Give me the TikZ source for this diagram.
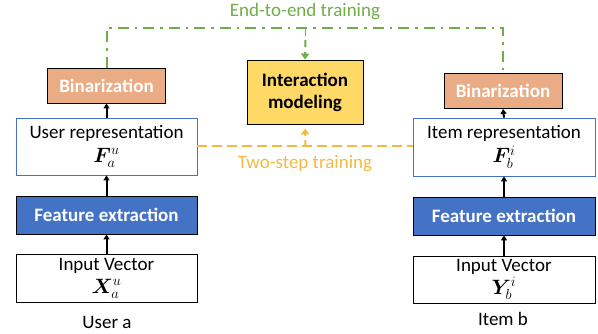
\documentclass[tikz,border=0pt]{standalone}
\usepackage{fontspec}
\setmainfont{Carlito}
\usepackage{amsmath,bm}
\usetikzlibrary{arrows.meta}
\definecolor{binfill}{HTML}{EAAC84}
\definecolor{featblue}{HTML}{4472C4}
\definecolor{intfill}{HTML}{FFD966}
\definecolor{egreen}{HTML}{70AD47}
\definecolor{torange}{HTML}{F4B942}
\newcommand{\bigmath}[1]{{\fontsize{21}{23}\selectfont$#1$}}
\tikzset{
  box/.style={draw=black, line width=0.9pt, inner sep=0pt, align=center, font=\fontsize{19}{23}\selectfont},
  binbox/.style={box, fill=binfill, text=white, font=\fontsize{19}{23}\selectfont\bfseries, minimum width=118pt, minimum height=35pt},
  repbox/.style={box, draw=featblue, line width=0.8pt, minimum width=181pt, minimum height=57pt},
  featbox/.style={box, fill=featblue, text=white, font=\fontsize{19}{23}\selectfont\bfseries, minimum width=181pt, minimum height=38pt},
  inbox/.style={box, minimum width=181pt, minimum height=48pt},
  intbox/.style={box, fill=intfill, font=\fontsize{19}{22}\selectfont\bfseries, minimum width=116pt, minimum height=64pt},
  flow/.style={line width=2pt, -{Triangle[length=5pt,width=6pt]}},
  e2e/.style={egreen, line width=2pt, dash pattern=on 11pt off 6pt on 2.5pt off 6pt},
  twostep/.style={torange, line width=2pt, dash pattern=on 10pt off 5pt},
  lbl/.style={font=\fontsize{19}{23}\selectfont, inner sep=0pt}
}
\begin{document}
\begin{tikzpicture}[x=1pt,y=-1pt]
\useasboundingbox (0,0) rectangle (598,333);
% left column
\node[binbox] (binL) at (106.5,85.5) {Binarization};
\node[repbox] (userRep) at (106.5,146.5) {User representation\\[1pt] \bigmath{\bm{F}_a^u}};
\node[featbox] (featL) at (106.5,215) {Feature extraction};
\node[inbox] (inL) at (106.5,278) {Input Vector\\[0pt] \bigmath{\bm{X}_a^u}};
\node[lbl] (userA) at (107,322) {User a};
% right column
\node[binbox] (binR) at (503,91) {Binarization};
\node[repbox, minimum width=182pt, minimum height=58pt] (itemRep) at (504,147) {Item representation\\[1pt] \bigmath{\bm{F}_b^i}};
\node[featbox, minimum width=182pt] (featR) at (504,216) {Feature extraction};
\node[inbox, minimum width=182pt, minimum height=47pt] (inR) at (504,279.5) {Input Vector\\[0pt] \bigmath{\bm{Y}_b^i}};
\node[lbl] (itemB) at (503,319) {Item b};
% middle
\node[intbox] (inter) at (305,92) {Interaction\\modeling};
% black flows
\draw[flow] (inL.north) -- (featL.south);
\draw[flow] (featL.north) -- (userRep.south);
\draw[flow] (userRep.north) -- (binL.south);
\draw[flow] (inR.north) -- (featR.south);
\draw[flow] (featR.north) -- (itemRep.south);
\draw[flow] (itemRep.north) -- (binR.south);
% end-to-end
\coordinate (gL) at (106.5,28);
\coordinate (gR) at (503,28);
\coordinate (gM) at (305.5,28);
\draw[e2e] (binL.north) -- (gL) -- (gR) -- (binR.north);
\draw[e2e, solid, line width=1.5pt] (gM) -- ++(0,8);
\draw[egreen, line width=2pt, dash pattern=on 7pt off 5pt, -{Triangle[length=6pt,width=8pt]}] (gM) ++(0,12) -- (inter.north);
\node[lbl, text=egreen] (e2eLbl) at (305,12) {End-to-end training};
% two-step
\coordinate (oM) at (305.5,146);
\draw[twostep] (userRep.east |- oM) -- (itemRep.west |- oM);
\draw[twostep, dash pattern=on 6pt off 4pt, -{Triangle[length=6pt,width=8pt]}, shorten >=4pt] (oM) -- (inter.south);
\node[lbl, text=torange] (tsLbl) at (305,164) {Two-step training};
\end{tikzpicture}
\end{document}
